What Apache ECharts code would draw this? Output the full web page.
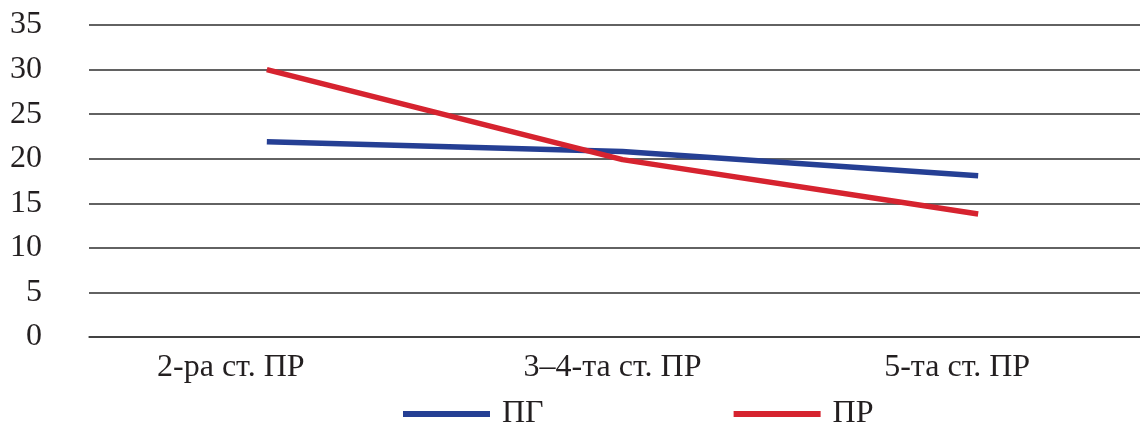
<!DOCTYPE html>
<html>
<head>
<meta charset="utf-8">
<script src="https://cdn.jsdelivr.net/npm/echarts@6/dist/echarts.min.js"></script>
<style>
  html, body { margin: 0; padding: 0; background: #fff; }
  #chart { width: 1140px; height: 425px; }
</style>
</head>
<body>
<div id="chart"></div>
<script>
// categories and series
const categories = ['2-ра ст. ПР', '3–4-та ст. ПР', '5-та ст. ПР'];
const seriesNames = ['ПГ', 'ПР'];
const pgValues = [21.9, 20.8, 18.1];
const prValues = [30.0, 19.9, 13.8];
const yTicks = { min: 0, max: 35, interval: 5 };

const FONT = '"Liberation Serif", "DejaVu Serif", serif';
const TEXT = '#231f20';
const FS = 32;

// per-label shift, the labels sit a bit left of their points in the source
const labelStyleKeys = ['a', 'b', 'c'];

const chart = echarts.init(document.getElementById('chart'));
chart.setOption({
  backgroundColor: '#fff',
  animation: false,
  // plot runs past the right edge of the picture (cropped source)
  grid: { left: 89, width: 1067, top: 25, bottom: 88, outerBoundsMode: 'none' },
  legend: {
    data: seriesNames,
    left: 398,
    top: 393,
    icon: 'rect',
    itemWidth: 87,
    itemHeight: 6,
    itemGap: 190,
    textStyle: { fontFamily: FONT, fontSize: FS, color: TEXT, padding: [0, 0, 0, 7] }
  },
  xAxis: {
    type: 'category',
    data: categories,
    axisLine: { show: true, lineStyle: { color: '#3a3a3a', width: 1.5 } },
    axisTick: { show: false },
    axisLabel: {
      margin: 15,
      fontFamily: FONT,
      fontSize: FS,
      color: TEXT,
      formatter: (v, i) => '{' + labelStyleKeys[i] + '|' + v + '}',
      rich: {
        a: { fontFamily: FONT, fontSize: FS, color: TEXT, padding: [0, 72, 0, 0] },
        b: { fontFamily: FONT, fontSize: FS, color: TEXT, padding: [0, 20, 0, 0] },
        c: { fontFamily: FONT, fontSize: FS, color: TEXT, padding: [0, 42, 0, 0] }
      }
    }
  },
  yAxis: {
    type: 'value',
    min: yTicks.min,
    max: yTicks.max,
    interval: yTicks.interval,
    axisLine: { show: false },
    axisTick: { show: false },
    axisLabel: { margin: 47, fontFamily: FONT, fontSize: FS, color: TEXT },
    splitLine: { lineStyle: { color: '#2e2e2e', width: 1.5 } }
  },
  series: [
    {
      name: seriesNames[0],
      type: 'line',
      data: pgValues,
      symbol: 'none',
      color: '#253f94',
      lineStyle: { color: '#253f94', width: 5.5, cap: 'butt' }
    },
    {
      name: seriesNames[1],
      type: 'line',
      data: prValues,
      symbol: 'none',
      color: '#d6232f',
      lineStyle: { color: '#d6232f', width: 5.5, cap: 'butt' }
    }
  ]
});
</script>
</body>
</html>
